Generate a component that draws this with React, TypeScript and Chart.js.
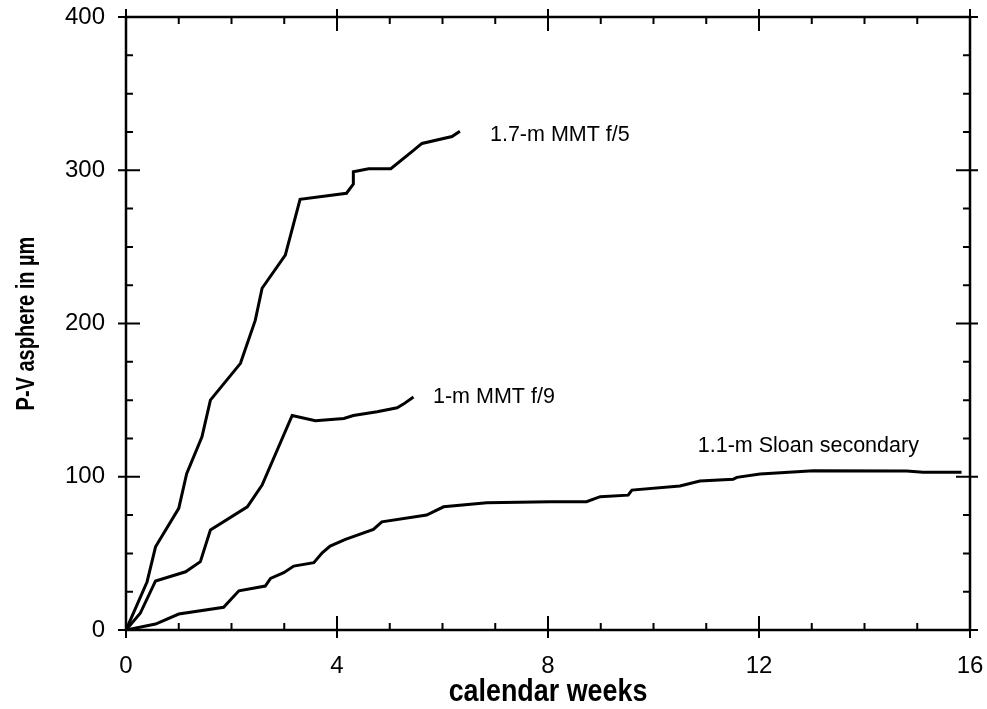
import React, { useEffect, useRef } from "react";
import { Chart, registerables } from "chart.js";

Chart.register(...registerables);

// 1.7-m MMT f/5
const mmt5Weeks = [0, 0.4, 0.56, 1.0, 1.15, 1.44, 1.6, 2.17, 2.45, 2.58, 3.02, 3.3, 4.18, 4.31, 4.31, 4.6, 5.02, 5.45, 5.61, 6.18, 6.33];
const mmt5Values = [0, 31.5, 54.3, 79.4, 102, 126, 150, 174, 202, 223, 244.6, 281, 285, 291, 299, 301, 301, 313, 317.5, 322, 325.5];

// 1-m MMT f/9
const mmt9Weeks = [0, 0.27, 0.56, 1.13, 1.41, 1.6, 2.3, 2.58, 3.15, 3.59, 4.13, 4.31, 4.76, 5.14, 5.26, 5.45];
const mmt9Values = [0, 10.9, 32, 38, 44.6, 65.2, 80.4, 94.6, 140, 136.5, 138, 140, 142.4, 145, 147.4, 152];

// 1.1-m Sloan secondary
const sloanWeeks = [0, 0.56, 1.0, 1.85, 2.14, 2.64, 2.74, 2.99, 3.18, 3.56, 3.72, 3.87, 4.16, 4.69, 4.85, 5.7, 6.02, 6.84, 8.04, 8.73, 8.99, 9.52, 9.59, 10.5, 10.88, 11.51, 11.58, 12.02, 13.03, 14.8, 15.11, 15.84];
const sloanValues = [0, 3.9, 10.4, 14.8, 25.6, 28.7, 33.7, 37.4, 41.7, 43.9, 50.4, 54.8, 59.2, 65.7, 70.6, 75, 80.4, 83, 83.7, 83.7, 87, 88, 91.3, 94, 97.2, 98.3, 99.6, 101.8, 103.9, 103.7, 102.9, 102.9];

const seriesLabels = ["1.7-m MMT f/5", "1-m MMT f/9", "1.1-m Sloan secondary"];
// label anchor (left edge, vertical middle) in data units
const labelWeeks = [6.9, 5.82, 10.84];
const labelValues = [323, 152, 120];

const xTitle = "calendar weeks";
const yTitle = "P-V asphere in µm";

const xMajorTicks = [0, 4, 8, 12, 16];
const yMajorTicks = [0, 100, 200, 300, 400];
const xMinorTicks = [1, 2, 3, 5, 6, 7, 9, 10, 11, 13, 14, 15];
const yMinorTicks = [25, 50, 75, 125, 150, 175, 225, 250, 275, 325, 350, 375];

const toPoints = (xs: number[], ys: number[]) => xs.map((x, i) => ({ x, y: ys[i] }));

const FONT = "'Liberation Sans', Arial, Helvetica, sans-serif";

const framePlugin = {
  id: "frameTicks",
  afterDatasetsDraw(chart: any) {
    const { ctx, chartArea, scales } = chart;
    const { left, right, top, bottom } = chartArea;
    const xs = scales.x;
    const ys = scales.y;
    ctx.save();
    ctx.strokeStyle = "#000";
    ctx.lineWidth = 2.5;
    ctx.strokeRect(left, top, right - left, bottom - top);
    ctx.lineWidth = 2;
    const major = 14;
    const minor = 7;
    const out = 8;
    ctx.beginPath();
    const xt = (v: number, len: number, o: number) => {
      const px = xs.getPixelForValue(v);
      ctx.moveTo(px, bottom + o);
      ctx.lineTo(px, bottom - len);
      ctx.moveTo(px, top - o);
      ctx.lineTo(px, top + len);
    };
    const yt = (v: number, len: number, o: number) => {
      const py = ys.getPixelForValue(v);
      ctx.moveTo(left - o, py);
      ctx.lineTo(left + len, py);
      ctx.moveTo(right + o, py);
      ctx.lineTo(right - len, py);
    };
    xMajorTicks.forEach((v) => xt(v, major, out));
    xMinorTicks.forEach((v) => xt(v, minor, 0));
    yMajorTicks.forEach((v) => yt(v, major, out));
    yMinorTicks.forEach((v) => yt(v, minor, 0));
    ctx.stroke();

    ctx.fillStyle = "#000";
    ctx.font = `21.5px ${FONT}`;
    ctx.textBaseline = "middle";
    ctx.textAlign = "left";
    seriesLabels.forEach((t, i) => {
      ctx.fillText(t, xs.getPixelForValue(labelWeeks[i]), ys.getPixelForValue(labelValues[i]));
    });

    // axis titles (condensed bold)
    ctx.textAlign = "center";
    ctx.textBaseline = "alphabetic";
    ctx.save();
    ctx.font = `bold 32px ${FONT}`;
    ctx.translate((left + right) / 2, 701);
    ctx.scale(0.84, 1);
    ctx.fillText(xTitle, 0, 0);
    ctx.restore();

    ctx.save();
    ctx.font = `bold 25px ${FONT}`;
    ctx.translate(34, (top + bottom) / 2);
    ctx.rotate(-Math.PI / 2);
    ctx.scale(0.8, 1);
    ctx.fillText(yTitle, 0, 0);
    ctx.restore();

    ctx.restore();
  },
};

export default function App() {
  const ref = useRef<HTMLCanvasElement | null>(null);
  useEffect(() => {
    document.body.style.margin = "0";
    const canvas = ref.current!;
    const lineStyle = {
      borderColor: "#000",
      borderWidth: 3,
      pointRadius: 0,
      fill: false,
      tension: 0,
    };
    const chart = new Chart(canvas, {
      type: "line",
      data: {
        datasets: [
          { label: seriesLabels[0], data: toPoints(mmt5Weeks, mmt5Values), ...lineStyle },
          { label: seriesLabels[1], data: toPoints(mmt9Weeks, mmt9Values), ...lineStyle },
          { label: seriesLabels[2], data: toPoints(sloanWeeks, sloanValues), ...lineStyle },
        ],
      },
      options: {
        animation: false,
        responsive: false,
        maintainAspectRatio: false,
        layout: { padding: { top: 17, right: 17, left: 0, bottom: 0 } },
        plugins: {
          legend: { display: false },
          tooltip: { enabled: false },
        },
        scales: {
          x: {
            type: "linear",
            min: 0,
            max: 16,
            afterBuildTicks: (s: any) => {
              s.ticks = xMajorTicks.map((v) => ({ value: v }));
            },
            afterFit: (s: any) => {
              s.height = 79;
              s.paddingLeft = 0;
              s.paddingRight = 0;
            },
            grid: { display: false },
            border: { display: false },
            ticks: {
              color: "#000",
              padding: 14,
              font: { family: FONT, size: 24 },
              maxRotation: 0,
            },
          },
          y: {
            type: "linear",
            min: 0,
            max: 400,
            afterBuildTicks: (s: any) => {
              s.ticks = yMajorTicks.map((v) => ({ value: v }));
            },
            afterFit: (s: any) => {
              s.width = 126;
              s.paddingTop = 0;
              s.paddingBottom = 0;
            },
            grid: { display: false },
            border: { display: false },
            ticks: {
              color: "#000",
              padding: 13,
              font: { family: FONT, size: 24 },
            },
          },
        },
      },
      plugins: [framePlugin],
    });
    return () => chart.destroy();
  }, []);
  return <canvas ref={ref} width={987} height={709} style={{ display: "block" }} />;
}
